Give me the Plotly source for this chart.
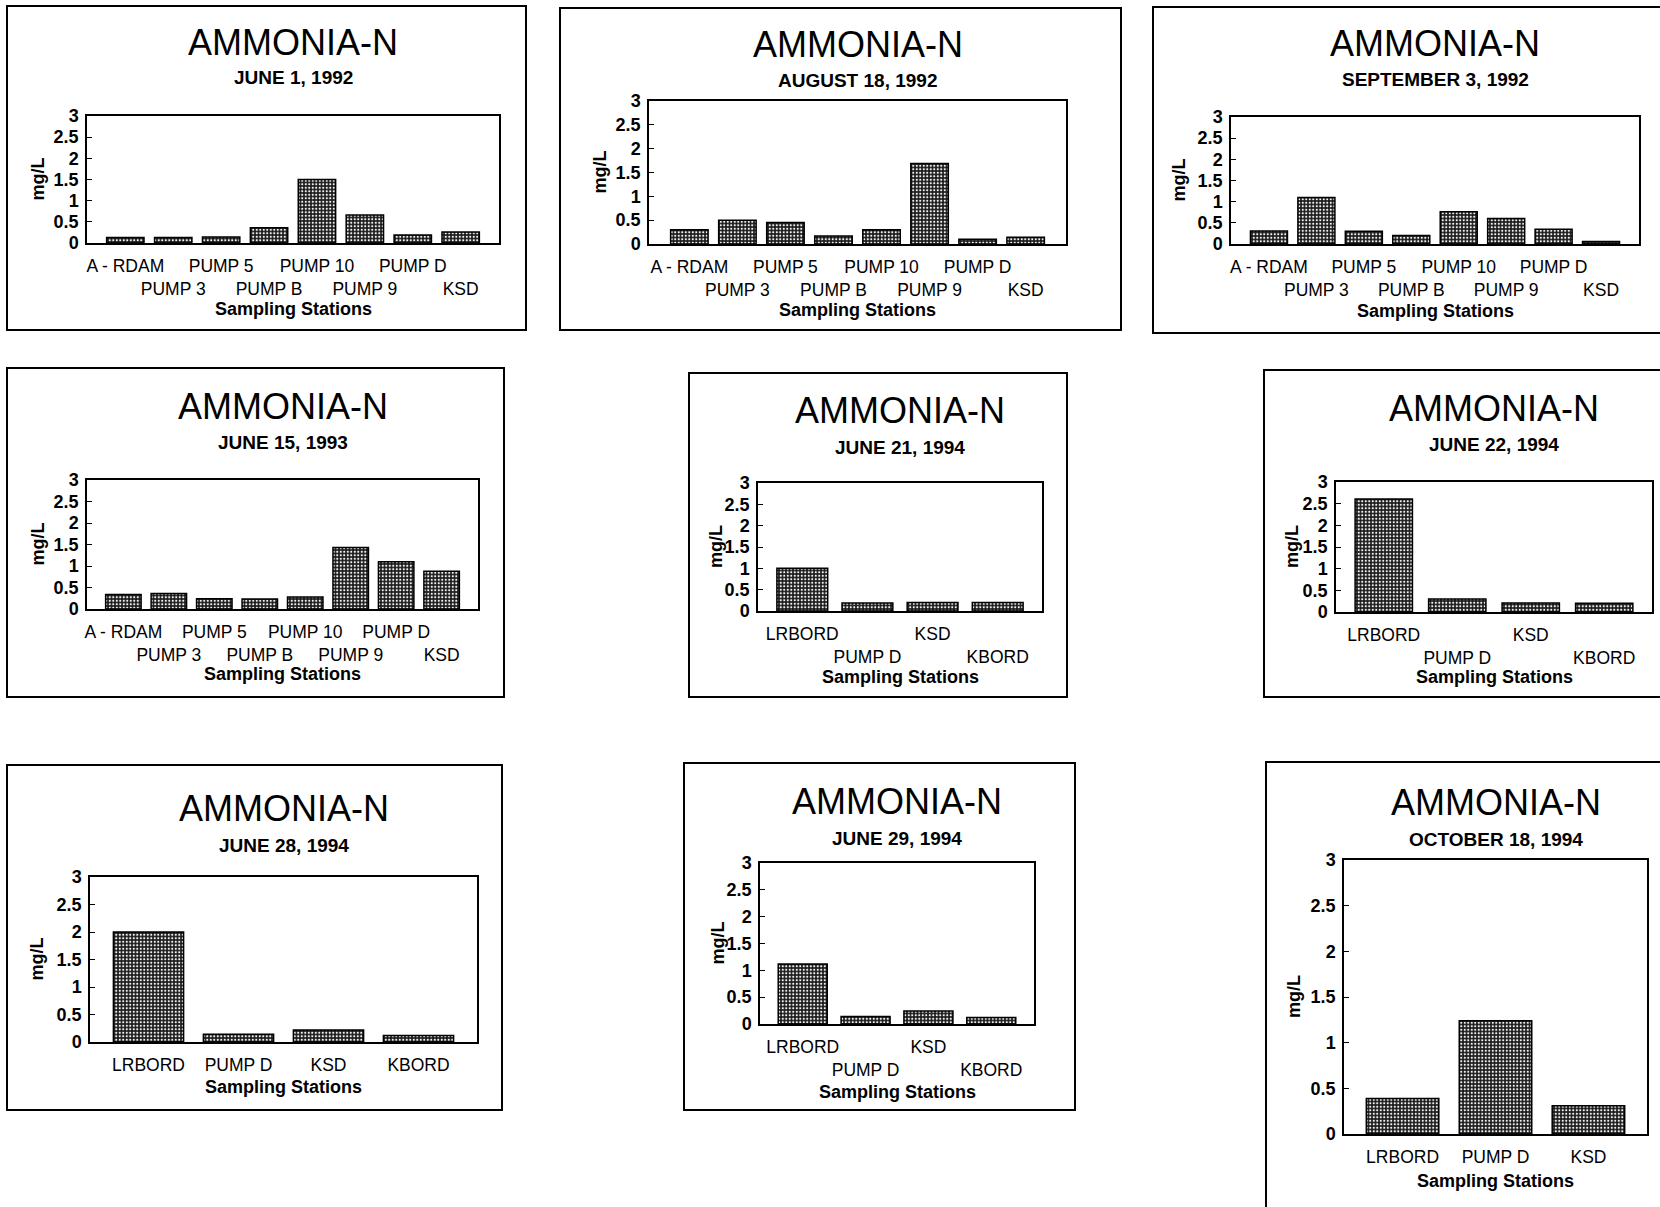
import plotly.graph_objects as go

W, H = 1660, 1207
FONT = "Liberation Sans, Arial, sans-serif"

# ---------------- data ----------------
chart_title = "AMMONIA-N"
x_title = "Sampling Stations"
y_title = "mg/L"

stations_1992 = ["A - RDAM", "PUMP 3", "PUMP 5", "PUMP B", "PUMP 10", "PUMP 9", "PUMP D", "KSD"]
stations_1994 = ["LRBORD", "PUMP D", "KSD", "KBORD"]
stations_oct94 = ["LRBORD", "PUMP D", "KSD"]

dates = ["JUNE 1, 1992", "AUGUST 18, 1992", "SEPTEMBER 3, 1992",
         "JUNE 15, 1993", "JUNE 21, 1994", "JUNE 22, 1994",
         "JUNE 28, 1994", "JUNE 29, 1994", "OCTOBER 18, 1994"]

jun01_1992 = [0.13, 0.13, 0.14, 0.36, 1.50, 0.66, 0.19, 0.26]
aug18_1992 = [0.30, 0.50, 0.45, 0.17, 0.30, 1.69, 0.10, 0.14]
sep03_1992 = [0.31, 1.10, 0.30, 0.20, 0.76, 0.60, 0.35, 0.06]
jun15_1993 = [0.34, 0.36, 0.24, 0.23, 0.28, 1.43, 1.10, 0.88]
jun21_1994 = [1.00, 0.19, 0.20, 0.20]
jun22_1994 = [2.61, 0.30, 0.21, 0.20]
jun28_1994 = [2.00, 0.14, 0.22, 0.12]
jun29_1994 = [1.12, 0.14, 0.24, 0.12]
oct18_1994 = [0.39, 1.24, 0.31]

y_tickvals = [0, 0.5, 1, 1.5, 2, 2.5, 3]
y_ticktext = ["0", "0.5", "1", "1.5", "2", "2.5", "3"]

series = [
    (stations_1992, jun01_1992), (stations_1992, aug18_1992), (stations_1992, sep03_1992),
    (stations_1992, jun15_1993), (stations_1994, jun21_1994), (stations_1994, jun22_1994),
    (stations_1994, jun28_1994), (stations_1994, jun29_1994), (stations_oct94, oct18_1994),
]

# ---------------- layout (pixel geometry) ----------------
geom = [
    dict(box=(7, 6, 526, 330), plot=(87, 116, 499, 243), pad=0.8, stagger=True, ty=42, sy=78, xty=309, ydx=50),
    dict(box=(560, 8, 1121, 330), plot=(649, 101, 1066, 244), pad=0.84, stagger=True, ty=44.5, sy=80.5, xty=310, ydx=49),
    dict(box=(1153, 7, 1664, 333), plot=(1231, 117, 1639, 244), pad=0.8, stagger=True, ty=43, sy=79.5, xty=311, ydx=53),
    dict(box=(7, 368, 504, 697), plot=(87, 480, 478, 609), pad=0.8, stagger=True, ty=406.5, sy=442.5, xty=674, ydx=50),
    dict(box=(689, 373, 1067, 697), plot=(758, 483, 1042, 611), pad=0.68, stagger=True, ty=410, sy=447, xty=676.5, ydx=42),
    dict(box=(1264, 370, 1664, 697), plot=(1336, 482, 1652, 612), pad=0.65, stagger=True, ty=408.6, sy=444.6, xty=676.5, ydx=44),
    dict(box=(7, 765, 502, 1110), plot=(90, 877, 477, 1042), pad=0.65, stagger=False, ty=808, sy=845, xty=1087, ydx=53),
    dict(box=(684, 763, 1075, 1110), plot=(760, 863, 1034, 1024), pad=0.68, stagger=True, ty=801.5, sy=838.5, xty=1091.5, ydx=43),
    dict(box=(1266, 762, 1664, 1212), plot=(1344, 860, 1647, 1134), pad=0.63, stagger=False, ty=802.5, sy=839.5, xty=1180.5, ydx=50),
]


def px(x):
    return x / W


def py(y):
    return 1 - y / H


fig = go.Figure()
annotations = []
shapes = []
layout_axes = {}

for i, ((names, vals), g, date) in enumerate(zip(series, geom, dates), start=1):
    n = len(names)
    xs = list(range(n))
    fig.add_trace(go.Bar(
        x=xs, y=vals, xaxis=f"x{i}", yaxis=f"y{i}", width=0.78,
        marker=dict(color="#1a1a1a", line=dict(color="black", width=1.5),
                    pattern=dict(shape=".", fgcolor="#f4f4f4", bgcolor="#1a1a1a",
                                 size=3.5, solidity=0.3)),
        showlegend=False, hoverinfo="x+y",
    ))
    if g["stagger"]:
        ticktext = [s if k % 2 == 0 else "<br>" + s for k, s in enumerate(names)]
    else:
        ticktext = list(names)
    x0, y0, x1, y1 = g["plot"]
    layout_axes[f"xaxis{i}"] = dict(
        domain=[px(x0), px(x1)], anchor=f"y{i}", range=[-g["pad"], n - 1 + g["pad"]],
        tickvals=xs, ticktext=ticktext, ticks="", showgrid=False, zeroline=False,
        showline=True, mirror=True, linecolor="black", linewidth=1.5, tickangle=0,
        tickfont=dict(family=FONT, size=17.5, color="black"), ticklabelstandoff=6,
        automargin=False, fixedrange=True,
    )
    layout_axes[f"yaxis{i}"] = dict(
        domain=[py(y1), py(y0)], anchor=f"x{i}", range=[0, 3],
        tickvals=y_tickvals, ticktext=y_ticktext, ticks="inside", ticklen=5,
        tickcolor="black", tickwidth=1.2, showgrid=False, zeroline=False,
        showline=True, mirror=True, linecolor="black", linewidth=1.5,
        tickfont=dict(family=FONT, size=18, color="black", weight="bold"),
        ticklabelstandoff=3, automargin=False, fixedrange=True,
    )
    cx = (x0 + x1) / 2
    annotations += [
        dict(text=chart_title, x=px(cx), y=py(g["ty"]), xref="paper", yref="paper",
             xanchor="center", yanchor="middle", showarrow=False,
             font=dict(family=FONT, size=36, color="black")),
        dict(text=date, x=px(cx), y=py(g["sy"]), xref="paper", yref="paper",
             xanchor="center", yanchor="middle", showarrow=False,
             font=dict(family=FONT, size=19, color="black", weight="bold")),
        dict(text=x_title, x=px(cx), y=py(g["xty"]), xref="paper", yref="paper",
             xanchor="center", yanchor="middle", showarrow=False,
             font=dict(family=FONT, size=18, color="black", weight="bold")),
        dict(text=y_title, x=px(x0 - g["ydx"]), y=py((y0 + y1) / 2), xref="paper", yref="paper",
             xanchor="center", yanchor="middle", showarrow=False, textangle=-90,
             font=dict(family=FONT, size=18, color="black", weight="bold")),
    ]
    bx0, by0, bx1, by1 = g["box"]
    shapes.append(dict(type="rect", xref="paper", yref="paper",
                       x0=px(bx0), x1=px(bx1), y0=py(by1), y1=py(by0),
                       line=dict(color="black", width=2), fillcolor="rgba(0,0,0,0)"))

fig.update_layout(
    template="none",
    width=W, height=H, margin=dict(l=0, r=0, t=0, b=0, autoexpand=False),
    paper_bgcolor="white", plot_bgcolor="white",
    annotations=annotations, shapes=shapes, bargap=0.2,
    font=dict(family=FONT, color="black"),
    **layout_axes,
)

fig.write_html("out.html", config={"displayModeBar": False},
               post_script="document.body.style.margin='0';document.body.style.overflow='hidden';")
